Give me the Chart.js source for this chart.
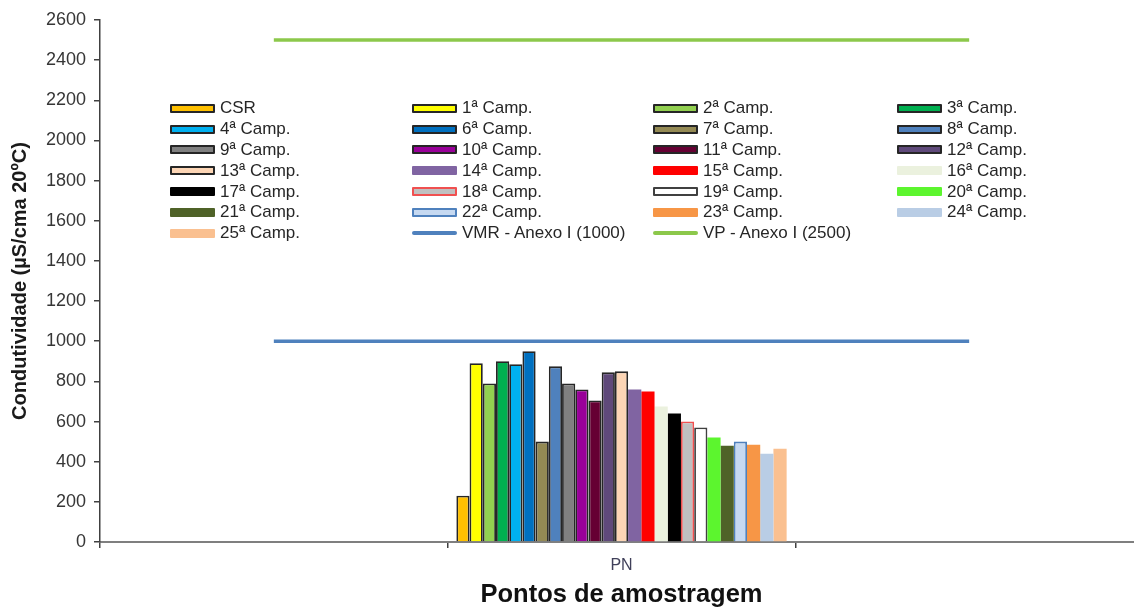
<!DOCTYPE html>
<html lang="pt">
<head>
<meta charset="utf-8">
<title>Condutividade - Pontos de amostragem</title>
<script src="https://cdn.jsdelivr.net/npm/chart.js@4.4.1/dist/chart.umd.min.js"></script>
<style>
    html, body { margin: 0; padding: 0; background: #fff; overflow: hidden; }
    #wrap { position: relative; width: 1150px; height: 610px; }
    #wrap canvas { position: absolute; left: 0; top: 0; }
    #legend {
        position: absolute; left: 170px; top: 98px;
        display: grid;
        grid-template-columns: 242px 241px 244px 200px;
        grid-auto-rows: 20.8px;
        font-family: "Liberation Sans", Arial, sans-serif;
        font-size: 17px; color: #262626;
    }
    .item { display: flex; align-items: center; white-space: nowrap; }
    .swatch { width: 45px; height: 9px; box-sizing: border-box; margin-right: 5px; border-radius: 1px; }
    .stroke { width: 45px; height: 4px; margin-right: 5px; border-radius: 2px; }
</style>
</head>
<body>
<div id="wrap">
    <canvas id="chart" width="1150" height="610"></canvas>
    <div id="legend"></div>
</div>

<script>
/* ================================
   DATA
================================ */
const categories = ["", "PN", ""];

const campaigns = [
    "CSR", "1ª Camp.", "2ª Camp.", "3ª Camp.", "4ª Camp.", "6ª Camp.", "7ª Camp.",
    "8ª Camp.", "9ª Camp.", "10ª Camp.", "11ª Camp.", "12ª Camp.", "13ª Camp.",
    "14ª Camp.", "15ª Camp.", "16ª Camp.", "17ª Camp.", "18ª Camp.", "19ª Camp.",
    "20ª Camp.", "21ª Camp.", "22ª Camp.", "23ª Camp.", "24ª Camp.", "25ª Camp."
];

// condutividade medida em PN (µS/cm a 20ºC)
const conductivity = [
    230, 890, 790, 900, 885, 950, 500, 875, 790, 760, 705, 845, 850,
    760, 750, 675, 640, 600, 570, 520, 480, 500, 485, 440, 465
];

const limitNames = ["VMR - Anexo I (1000)", "VP - Anexo I (2500)"];
const limitValues = [1000, 2500];

const yMin = 0;
const yMax = 2600;
const yStep = 200;

/* ================================
   COLOURS
================================ */
const fillColors = [
    "#FFC000", "#FFFF00", "#92D050", "#00B050", "#00B0F0", "#0070C0", "#948A54",
    "#4F81BD", "#808080", "#990099", "#660033", "#5F497A", "#FCD5B5",
    "#8064A2", "#FF0000", "#EBF1DE", "#000000", "#C0C0C0", "#FFFFFF",
    "#5CF52E", "#4F6228", "#C6D9F1", "#F79646", "#B9CDE5", "#FAC090"
];
const DARK = "#262626";
const edgeColors = [
    DARK, DARK, DARK, DARK, DARK, DARK, DARK, DARK, DARK, DARK, DARK, DARK, DARK,
    null, null, null, null, "#F05050", "#404040", null, null, "#4F81BD", null, null, null
];
const limitColors = ["#4F81BD", "#8CC84B"];

/* ================================
   DATASETS
================================ */
const barSets = campaigns.map((name, i) => ({
    type: "bar",
    label: name,
    data: categories.map(c => (c === "PN" ? conductivity[i] : null)),
    backgroundColor: fillColors[i],
    borderColor: edgeColors[i] || fillColors[i],
    borderWidth: edgeColors[i] ? 1.8 : 0,
    barPercentage: 1,
    categoryPercentage: 0.95
}));

const lineSets = limitNames.map((name, i) => ({
    type: "line",
    label: name,
    data: categories.map(() => limitValues[i]),
    borderColor: limitColors[i],
    backgroundColor: limitColors[i],
    borderWidth: 3.5,
    pointRadius: 0,
    fill: false
}));

Chart.defaults.font.family = '"Liberation Sans", Arial, sans-serif';
Chart.defaults.color = "#363636";

const chart = new Chart(document.getElementById("chart"), {
    type: "bar",
    data: { labels: categories, datasets: [...barSets, ...lineSets] },
    options: {
        responsive: false,
        animation: false,
        layout: { padding: { top: 20, right: 7, left: 0, bottom: 0 } },
        plugins: {
            legend: { display: false },
            tooltip: { enabled: false }
        },
        scales: {
            x: {
                afterFit: scale => { scale.height = 68; },
                grid: { drawOnChartArea: false, offset: true, tickLength: 6, color: "#404040", lineWidth: 1.5 },
                border: { color: "#7f7f7f", width: 2 },
                ticks: { color: "#40405a", font: { size: 16 }, padding: 8 },
                title: {
                    display: true,
                    text: "Pontos de amostragem",
                    color: "#111",
                    font: { size: 25.5, weight: "bold" },
                    padding: { top: 0, bottom: 0 }
                }
            },
            y: {
                min: yMin,
                max: yMax,
                afterFit: scale => { scale.width = 100; },
                grid: { drawOnChartArea: false, tickLength: 6, color: "#404040", lineWidth: 1.5 },
                border: { color: "#404040", width: 1.5 },
                ticks: {
                    stepSize: yStep,
                    font: { size: 18 },
                    padding: 8,
                    callback: value => String(value)
                },
                title: {
                    display: true,
                    text: "Condutividade (µS/cma 20ºC)",
                    color: "#1a1a1a",
                    font: { size: 20, weight: "bold" },
                    padding: { top: 8, bottom: 0 }
                }
            }
        }
    }
});

/* ================================
   LEGEND (4 columns, row by row)
================================ */
function buildLegend(ch) {
    const box = document.getElementById("legend");
    box.innerHTML = "";
    ch.data.datasets.forEach(ds => {
        const item = document.createElement("div");
        item.className = "item";
        const mark = document.createElement("span");
        if (ds.type === "line") {
            mark.className = "stroke";
            mark.style.background = ds.borderColor;
        } else {
            mark.className = "swatch";
            mark.style.background = ds.backgroundColor;
            if (ds.borderWidth > 0) mark.style.border = "2px solid " + ds.borderColor;
        }
        const text = document.createElement("span");
        text.textContent = ds.label;
        item.appendChild(mark);
        item.appendChild(text);
        box.appendChild(item);
    });
}
buildLegend(chart);
</script>
</body>
</html>
